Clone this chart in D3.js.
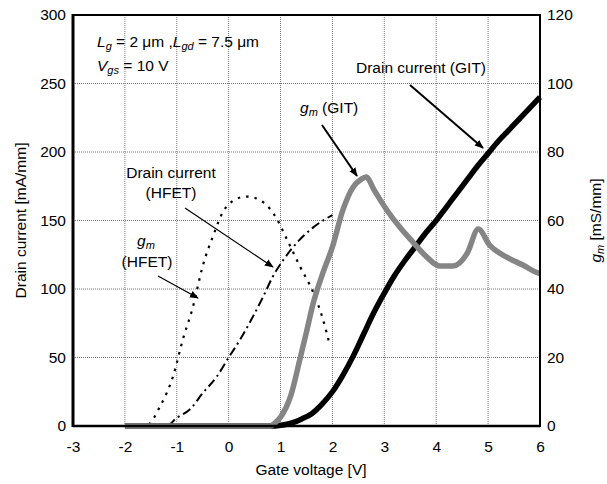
<!DOCTYPE html>
<html>
<head>
<meta charset="utf-8">
<script src="https://cdn.jsdelivr.net/npm/d3@7"></script>
<style>
body { margin: 0; background: #fff; }
svg text { font-family: "Liberation Sans", Arial, sans-serif; fill: #000; }
</style>
</head>
<body>
<svg id="chart" width="607" height="484"></svg>
<script>
// data
var xTicks = [-3, -2, -1, 0, 1, 2, 3, 4, 5, 6];
var yLeftTicks = [0, 50, 100, 150, 200, 250, 300];
var yRightTicks = [0, 20, 40, 60, 80, 100, 120];

// GIT drain current [mA/mm]
var gitIdV = [-2, 0.9, 1.0, 1.2, 1.4, 1.6, 1.8, 2.0, 2.2, 2.4, 2.6, 2.8, 3.0, 3.2, 3.4, 3.6, 3.8, 4.0, 4.2, 4.4, 4.6, 4.8, 5.0, 5.2, 5.4, 5.6, 5.8, 6.0];
var gitId = [0, 0, 0.5, 2, 5, 9, 16, 25, 37, 51, 67, 83, 97, 110, 121, 131, 141, 150, 160, 170, 180, 190, 199, 208, 216, 224, 232, 240];

// GIT gm [mS/mm]
var gitGmV = [-2, 0.8, 0.9, 1.0, 1.2, 1.37, 1.5, 1.63, 1.8, 2.0, 2.2, 2.4, 2.55, 2.65, 2.8, 3.05, 3.3, 3.55, 3.82, 4.07, 4.32, 4.6, 4.81, 5.03, 5.36, 5.67, 5.96, 6.0];
var gitGm = [0, 0, 1, 2.6, 9, 19.3, 27.5, 35.9, 44, 52.3, 63, 69.8, 72, 72.7, 69, 63, 58, 53.7, 49.3, 46.7, 46.7, 50.5, 57.5, 52.8, 49.3, 47, 44.7, 44.5];

// HFET drain current [mA/mm]
var hfetIdV = [-3, -1.2, -1.0, -0.75, -0.5, -0.23, 0, 0.22, 0.47, 0.66, 0.85, 1.05, 1.32, 1.63, 2.0];
var hfetId = [0, 0, 6, 12, 24, 36, 50, 63, 80, 94, 109, 121, 134, 145, 154];

// HFET gm [mS/mm]
var hfetGmV = [-3, -1.6, -1.32, -1.07, -0.88, -0.69, -0.5, -0.3, -0.11, 0.08, 0.35, 0.66, 0.93, 1.12, 1.37, 1.63, 1.82, 1.95];
var hfetGm = [0, 0, 5.8, 14.6, 25.4, 34.7, 46.7, 55.5, 62.5, 65.7, 67, 65.4, 60.4, 54.6, 46.7, 39, 31, 23.6];

var svg = d3.select('#chart');
var pLeft = 73, pRight = 540, pTop = 15, pBottom = 426;
var fs = '15.5px', subFs = '11px';

var x = d3.scaleLinear().domain([-3, 6]).range([pLeft, pRight]);
var yL = d3.scaleLinear().domain([0, 300]).range([pBottom, pTop]);
var yR = d3.scaleLinear().domain([0, 120]).range([pBottom, pTop]);

svg.append('defs').append('marker')
    .attr('id', 'head').attr('viewBox', '0 0 10 10')
    .attr('refX', 9).attr('refY', 5)
    .attr('markerWidth', 9).attr('markerHeight', 9)
    .attr('markerUnits', 'userSpaceOnUse')
    .attr('orient', 'auto')
    .append('path').attr('d', 'M0,1 L10,5 L0,9 Z').attr('fill', '#000');

// grid
var grid = svg.append('g');
grid.selectAll('line.vx').data(xTicks.slice(1, -1)).join('line')
    .attr('x1', d => x(d)).attr('x2', d => x(d))
    .attr('y1', pTop).attr('y2', pBottom)
    .attr('stroke', '#777').attr('stroke-width', 1).attr('stroke-dasharray', '1,1');
grid.selectAll('line.hy').data(yLeftTicks.slice(1, -1)).join('line')
    .attr('x1', pLeft).attr('x2', pRight)
    .attr('y1', d => yL(d)).attr('y2', d => yL(d))
    .attr('stroke', '#777').attr('stroke-width', 1).attr('stroke-dasharray', '1,1');

// axes
var fmt = d => String(d);
var ax = svg.append('g').attr('transform', 'translate(0,' + pBottom + ')')
    .call(d3.axisBottom(x).tickValues(xTicks).tickFormat(fmt).tickSize(0).tickPadding(15));
var ayl = svg.append('g').attr('transform', 'translate(' + pLeft + ',0)')
    .call(d3.axisLeft(yL).tickValues(yLeftTicks).tickFormat(fmt).tickSize(0).tickPadding(7));
var ayr = svg.append('g').attr('transform', 'translate(' + pRight + ',0)')
    .call(d3.axisRight(yR).tickValues(yRightTicks).tickFormat(fmt).tickSize(0).tickPadding(7));
[ax, ayl, ayr].forEach(a => {
    a.select('.domain').remove();
    a.selectAll('text').style('font-size', fs).style('font-family', '"Liberation Sans", Arial, sans-serif');
});

// curves
var lineL = d3.line().x(d => x(d[0])).y(d => yL(d[1])).curve(d3.curveMonotoneX);
var lineR = d3.line().x(d => x(d[0])).y(d => yR(d[1])).curve(d3.curveMonotoneX);
var zip = (a, b) => a.map((v, i) => [v, b[i]]);

svg.append('path').datum(zip(hfetGmV, hfetGm)).attr('d', lineR)
    .attr('fill', 'none').attr('stroke', '#000').attr('stroke-width', 2.2)
    .attr('stroke-dasharray', '2.5,6');
svg.append('path').datum(zip(hfetIdV, hfetId)).attr('d', lineL)
    .attr('fill', 'none').attr('stroke', '#000').attr('stroke-width', 2)
    .attr('stroke-dasharray', '9,4,2,4');
svg.append('path').datum(zip(gitIdV, gitId)).attr('d', lineL)
    .attr('fill', 'none').attr('stroke', '#000').attr('stroke-width', 5.5)
    .attr('stroke-linejoin', 'round');
svg.append('path').datum(zip(gitGmV, gitGm)).attr('d', lineR)
    .attr('fill', 'none').attr('stroke', '#858585').attr('stroke-width', 5.5)
    .attr('stroke-linejoin', 'round');

// frame
svg.append('rect').attr('x', pLeft).attr('y', pTop)
    .attr('width', pRight - pLeft).attr('height', pBottom - pTop)
    .attr('fill', 'none').attr('stroke', '#000').attr('stroke-width', 2);
svg.append('line').attr('x1', pLeft).attr('x2', pLeft).attr('y1', pTop - 1).attr('y2', pBottom + 1)
    .attr('stroke', '#000').attr('stroke-width', 3);
svg.append('line').attr('x1', pLeft).attr('x2', pRight).attr('y1', pBottom).attr('y2', pBottom)
    .attr('stroke', '#000').attr('stroke-width', 2.5);

// axis titles
svg.append('text').attr('x', 311).attr('y', 475)
    .attr('text-anchor', 'middle').style('font-size', fs).text('Gate voltage [V]');
svg.append('text').attr('transform', 'translate(26,' + (pTop + pBottom) / 2 + ') rotate(-90)')
    .attr('text-anchor', 'middle').style('font-size', fs).text('Drain current [mA/mm]');
var rt = svg.append('text').attr('transform', 'translate(601,' + (pTop + pBottom) / 2 + ') rotate(-90)')
    .attr('text-anchor', 'middle').style('font-size', fs);
rt.append('tspan').style('font-style', 'italic').text('g');
rt.append('tspan').style('font-style', 'italic').style('font-size', subFs).attr('dy', 3).text('m');
rt.append('tspan').attr('dy', -3).text(' [mS/mm]');

// annotations
function gm(t, px, py, anchor) {
    var e = t.append('text').attr('x', px).attr('y', py).attr('text-anchor', anchor || 'start')
        .style('font-size', fs);
    e.append('tspan').style('font-style', 'italic').text('g');
    e.append('tspan').style('font-style', 'italic').style('font-size', subFs).attr('dy', 3).text('m');
    return e;
}
var p1 = svg.append('text').attr('x', 97).attr('y', 47).style('font-size', fs);
p1.append('tspan').style('font-style', 'italic').text('L');
p1.append('tspan').style('font-style', 'italic').style('font-size', subFs).attr('dy', 3).text('g');
p1.append('tspan').attr('dy', -3).text(' = 2 \u03bcm ,');
p1.append('tspan').style('font-style', 'italic').text('L');
p1.append('tspan').style('font-style', 'italic').style('font-size', subFs).attr('dy', 3).text('gd');
p1.append('tspan').attr('dy', -3).text(' = 7.5 \u03bcm');
var p2 = svg.append('text').attr('x', 97).attr('y', 71).style('font-size', fs);
p2.append('tspan').style('font-style', 'italic').text('V');
p2.append('tspan').style('font-style', 'italic').style('font-size', subFs).attr('dy', 3).text('gs');
p2.append('tspan').attr('dy', -3).text(' = 10 V');

svg.append('text').attr('x', 421).attr('y', 73).attr('text-anchor', 'middle')
    .style('font-size', fs).text('Drain current (GIT)');
var g1 = gm(svg, 300, 113);
g1.append('tspan').attr('dy', -3).text(' (GIT)');

svg.append('text').attr('x', 171).attr('y', 178).attr('text-anchor', 'middle')
    .style('font-size', fs).text('Drain current');
svg.append('text').attr('x', 171).attr('y', 198).attr('text-anchor', 'middle')
    .style('font-size', fs).text('(HFET)');
gm(svg, 146, 246, 'middle');
svg.append('text').attr('x', 147).attr('y', 267).attr('text-anchor', 'middle')
    .style('font-size', fs).text('(HFET)');

var arrows = [
    [410, 85, 483, 148, 2],
    [322, 125, 357, 176, 2],
    [185, 208, 273, 267, 1.2],
    [158, 276, 198, 298, 1.2]
];
svg.selectAll('line.arrow').data(arrows).join('line')
    .attr('x1', d => d[0]).attr('y1', d => d[1]).attr('x2', d => d[2]).attr('y2', d => d[3])
    .attr('stroke', '#000').attr('stroke-width', d => d[4]).attr('marker-end', 'url(#head)');
</script>
</body>
</html>
